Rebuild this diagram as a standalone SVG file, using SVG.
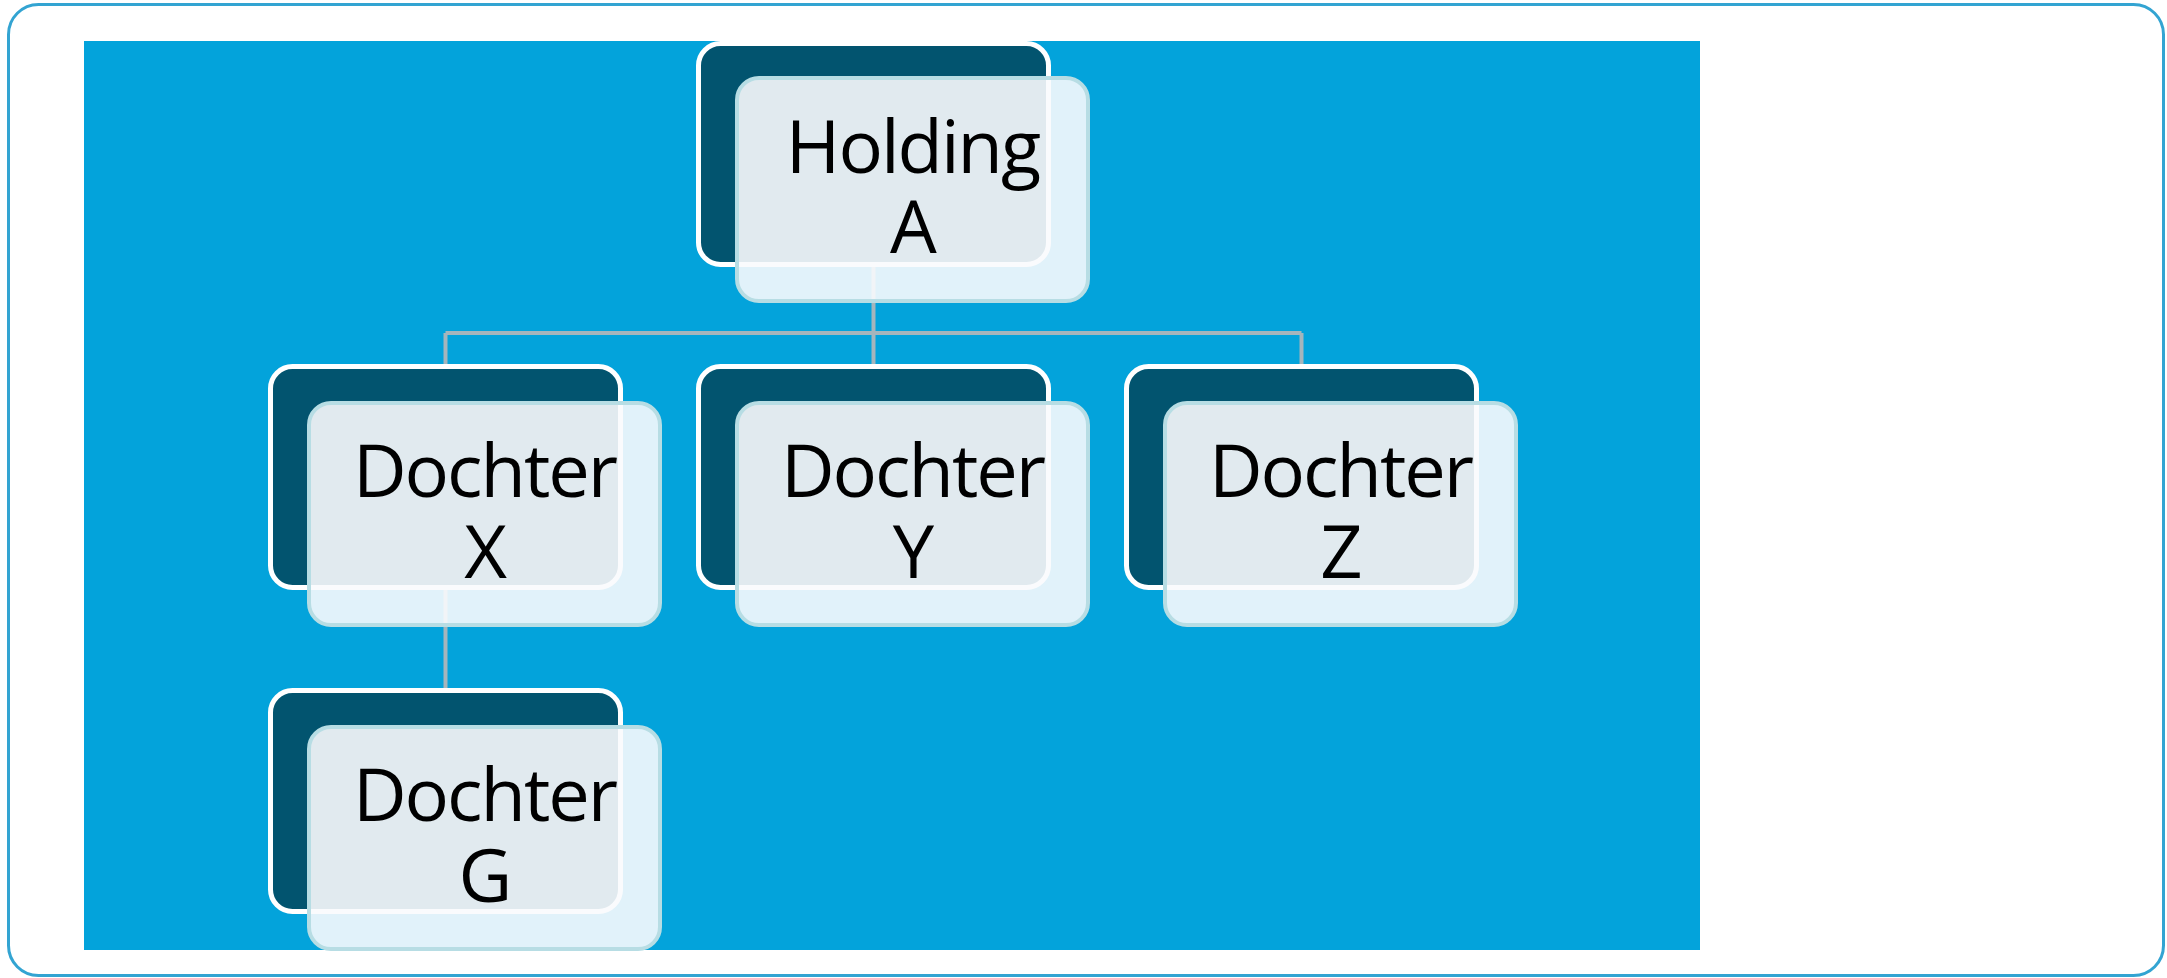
<svg xmlns="http://www.w3.org/2000/svg" width="2167" height="978" viewBox="0 0 2167 978">
<style>
.dark{fill:#02546F;stroke:#FFFFFF;stroke-width:5}
.front{fill:#FAFBFD;fill-opacity:0.9;stroke:#B7DDE4;stroke-width:4}
.lbl{font-family:"Open Sans","Noto Sans",sans-serif;font-size:74px;letter-spacing:-2px;fill:#000000;text-anchor:middle}
.conn{stroke:#A5B5BC;stroke-width:4;fill:none}
</style>
<rect x="0" y="0" width="2167" height="978" fill="#FFFFFF"/>
<rect x="8.5" y="4.5" width="2155" height="971" rx="30" ry="30" fill="#FFFFFF" stroke="#33A4D2" stroke-width="3"/>
<rect x="84" y="41" width="1616" height="909" fill="#03A3DB"/>
<g id="connectors">
<path class="conn" d="M873.5,266 V333 M445.5,333 H1301.5 M445.5,333 V364 M873.5,333 V364 M1301.5,333 V364 M445.5,590 V688"/>
</g>
<g id="node-holding-a">
<rect class="dark" x="698.5" y="43.5" width="350" height="221" rx="22"/>
<rect class="front" x="737" y="78" width="351" height="223" rx="22"/>
<text class="lbl"><tspan x="912.5" y="173">Holding</tspan><tspan x="912.5" y="253">A</tspan></text>
</g>
<g id="node-dochter-x">
<rect class="dark" x="270.5" y="366.5" width="350" height="221" rx="22"/>
<rect class="front" x="309" y="403" width="351" height="222" rx="22"/>
<text class="lbl"><tspan x="484.5" y="497">Dochter</tspan><tspan x="484.5" y="578">X</tspan></text>
</g>
<g id="node-dochter-y">
<rect class="dark" x="698.5" y="366.5" width="350" height="221" rx="22"/>
<rect class="front" x="737" y="403" width="351" height="222" rx="22"/>
<text class="lbl"><tspan x="912.5" y="497">Dochter</tspan><tspan x="912.5" y="578">Y</tspan></text>
</g>
<g id="node-dochter-z">
<rect class="dark" x="1126.5" y="366.5" width="350" height="221" rx="22"/>
<rect class="front" x="1165" y="403" width="351" height="222" rx="22"/>
<text class="lbl"><tspan x="1340.5" y="497">Dochter</tspan><tspan x="1340.5" y="578">Z</tspan></text>
</g>
<g id="node-dochter-g">
<rect class="dark" x="270.5" y="690.5" width="350" height="221" rx="22"/>
<rect class="front" x="309" y="727" width="351" height="222" rx="22"/>
<text class="lbl"><tspan x="484.5" y="821">Dochter</tspan><tspan x="484.5" y="902">G</tspan></text>
</g>
</svg>
